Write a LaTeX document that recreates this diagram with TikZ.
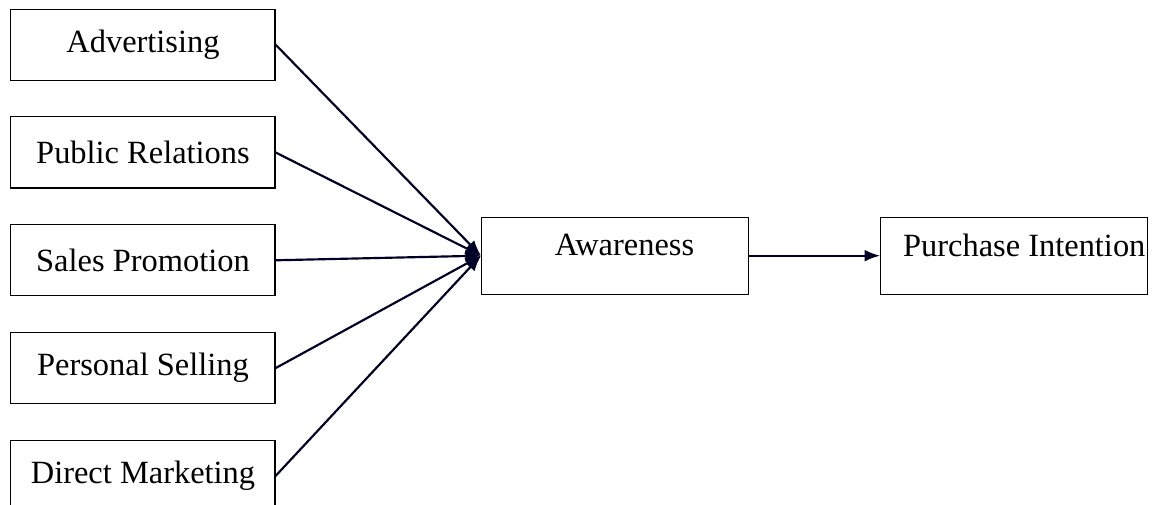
\documentclass[tikz,border=0pt]{standalone}
\usepackage{fontspec}
\setmainfont{Liberation Serif}
\usepackage{tikz}
\usetikzlibrary{arrows.meta,positioning}

\begin{document}
\begin{tikzpicture}[node distance=13.2pt, auto]
    \tikzset{
      rectnode/.style={rectangle,draw=black,inner sep=0pt,minimum width=97.7pt,minimum height=26.3pt,font=\rmfamily\fontsize{12}{14}\selectfont},
      widenode/.style={rectangle,draw=black,inner sep=0pt,minimum width=98.8pt,minimum height=28.5pt,text depth=8pt,font=\rmfamily\fontsize{12}{14}\selectfont},
      arrow/.style={-{Latex[length=5.8pt,width=4.4pt]},thick,draw=black!85!blue}
    }
    \useasboundingbox (0,0) rectangle (428.8pt,-186.5pt);
    \node[rectnode] at (52.9pt,-16.5pt) (advertising){Advertising};
    \node[rectnode,below=of advertising](relations){Public Relations};
    \node[rectnode,below=of relations](promotion){Sales Promotion};
    \node[rectnode,below=of promotion](selling){Personal Selling};
    \node[rectnode,below=of selling](marketing){Direct Marketing};
    \node[widenode,right=76pt of promotion,yshift=1.7pt](awareness){\hspace*{7pt}Awareness};
    \node[widenode,right=48.5pt of awareness](intention){\hspace*{7.4pt}Purchase Intention};

    \draw[arrow](advertising.east) -- (awareness.west);
    \draw[arrow](relations.east) -- (awareness.west);
    \draw[arrow](promotion.east) -- (awareness.west);
    \draw[arrow](selling.east) -- (awareness.west);
    \draw[arrow](marketing.east) -- (awareness.west);
    \draw[arrow](awareness.east) -- (intention.west);
  \end{tikzpicture}
\end{document}
